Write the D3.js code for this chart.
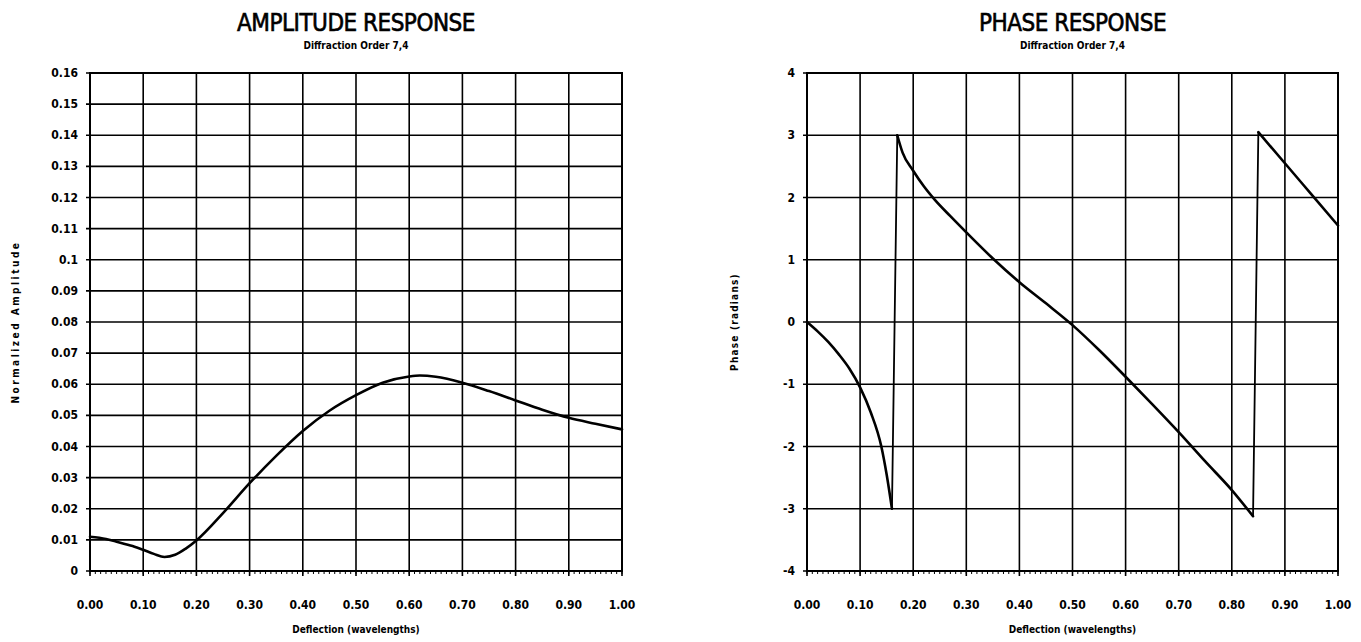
<!DOCTYPE html>
<html>
<head>
<meta charset="utf-8">
<script src="https://cdn.jsdelivr.net/npm/d3@7"></script>
<style>
  body { margin: 0; background: #fff; }
  text { font-family: "Liberation Sans Narrow", "DejaVu Sans Condensed", "Arial Narrow", sans-serif; font-weight: bold; fill: #000; }
</style>
</head>
<body>
<div id="viz"></div>
<script>
// deflection in wavelengths
var amp_x = [0.00, 0.03, 0.05, 0.08, 0.10, 0.12, 0.14, 0.16, 0.18, 0.20, 0.25, 0.30, 0.35, 0.40, 0.45, 0.50, 0.55, 0.60, 0.62, 0.65, 0.70, 0.75, 0.80, 0.85, 0.90, 0.95, 1.00];
var amp_y = [0.0110, 0.0103, 0.0094, 0.0080, 0.0068, 0.0055, 0.0045, 0.0052, 0.0072, 0.0098, 0.0186, 0.0282, 0.0370, 0.0450, 0.0515, 0.0565, 0.0605, 0.0625, 0.0628, 0.0624, 0.0605, 0.0578, 0.0548, 0.0518, 0.0492, 0.0473, 0.0455];

var phase_x = [0.00, 0.02, 0.04, 0.06, 0.08, 0.10, 0.12, 0.14, 0.15, 0.16, 0.17, 0.18, 0.20, 0.22, 0.24, 0.27, 0.30, 0.35, 0.40, 0.45, 0.50, 0.55, 0.60, 0.65, 0.70, 0.75, 0.80, 0.84, 0.85, 0.90, 0.95, 1.00];
var phase_y = [0.00, -0.15, -0.32, -0.52, -0.75, -1.05, -1.45, -2.00, -2.45, -3.00, 3.00, 2.72, 2.43, 2.18, 1.97, 1.70, 1.44, 1.02, 0.64, 0.30, -0.05, -0.45, -0.88, -1.32, -1.77, -2.24, -2.70, -3.12, 3.05, 2.55, 2.05, 1.55];

var x_ticks = [0, 0.1, 0.2, 0.3, 0.4, 0.5, 0.6, 0.7, 0.8, 0.9, 1.0];
var amp_ticks = [0, 0.01, 0.02, 0.03, 0.04, 0.05, 0.06, 0.07, 0.08, 0.09, 0.1, 0.11, 0.12, 0.13, 0.14, 0.15, 0.16];
var amp_tick_labels = ['0', '0.01', '0.02', '0.03', '0.04', '0.05', '0.06', '0.07', '0.08', '0.09', '0.1', '0.11', '0.12', '0.13', '0.14', '0.15', '0.16'];
var phase_ticks = [-4, -3, -2, -1, 0, 1, 2, 3, 4];

var svg = d3.select('#viz')
    .append('svg')
    .attr('width', 1361)
    .attr('height', 642);

function plotPanel(opts) {
    var x = d3.scaleLinear().domain([0, 1]).range([opts.left, opts.right]);
    var y = d3.scaleLinear().domain(opts.domain).range([opts.bottom, opts.top]);
    var cx = (opts.left + opts.right) / 2;
    var g = svg.append('g');

    // titles
    g.append('text')
        .attr('x', cx)
        .attr('y', 31)
        .attr('text-anchor', 'middle')
        .style('font-size', '24px')
        .style('font-weight', 'normal')
        .style('stroke', '#000')
        .style('stroke-width', 0.6)
        .style('letter-spacing', '-0.5px')
        .text(opts.title);

    g.append('text')
        .attr('x', cx)
        .attr('y', 49)
        .attr('text-anchor', 'middle')
        .style('font-size', '10px')
        .text('Diffraction Order 7,4');

    // grid
    g.append('g')
        .selectAll('line')
        .data(opts.yticks)
        .join('line')
        .attr('x1', opts.left - 4)
        .attr('x2', opts.right)
        .attr('y1', d => y(d))
        .attr('y2', d => y(d))
        .attr('stroke', '#000')
        .attr('stroke-width', 1.6);

    g.append('g')
        .selectAll('line')
        .data(x_ticks)
        .join('line')
        .attr('x1', d => x(d))
        .attr('x2', d => x(d))
        .attr('y1', opts.top)
        .attr('y2', opts.bottom + 5)
        .attr('stroke', '#000')
        .attr('stroke-width', 1.6);

    // minor ticks under the x axis
    g.append('g')
        .selectAll('line')
        .data(d3.range(0, 101).map(i => i / 100))
        .join('line')
        .attr('x1', d => x(d))
        .attr('x2', d => x(d))
        .attr('y1', opts.bottom)
        .attr('y2', opts.bottom + 3)
        .attr('stroke', '#000')
        .attr('stroke-width', 1);

    g.append('rect')
        .attr('x', opts.left)
        .attr('y', opts.top)
        .attr('width', opts.right - opts.left)
        .attr('height', opts.bottom - opts.top)
        .attr('fill', 'none')
        .attr('stroke', '#000')
        .attr('stroke-width', 2);

    // tick labels
    g.append('g')
        .selectAll('text')
        .data(x_ticks)
        .join('text')
        .attr('x', d => x(d))
        .attr('y', opts.bottom + 38)
        .attr('text-anchor', 'middle')
        .style('font-size', '12px')
        .text(d => d.toFixed(2));

    g.append('g')
        .selectAll('text')
        .data(opts.yticks)
        .join('text')
        .attr('x', opts.left - 12)
        .attr('y', d => y(d) + 4)
        .attr('text-anchor', 'end')
        .style('font-size', '12px')
        .text((d, i) => opts.ylabels[i]);

    // axis titles
    g.append('text')
        .attr('x', cx)
        .attr('y', opts.bottom + 62)
        .attr('text-anchor', 'middle')
        .style('font-size', '10px')
        .text('Deflection (wavelengths)');

    g.append('text')
        .attr('transform', 'translate(' + opts.ytitle_x + ',' + ((opts.top + opts.bottom) / 2) + ') rotate(-90)')
        .attr('text-anchor', 'middle')
        .style('font-size', '10px')
        .style('letter-spacing', opts.ytitle_spacing)
        .text(opts.ytitle);

    // curve: split into branches at the phase wraps, joined by straight jumps
    var pts = d3.zip(opts.xs, opts.ys);
    var branches = [[pts[0]]];
    var jumps = [];
    for (var i = 1; i < pts.length; i++) {
        if (Math.abs(pts[i][1] - pts[i - 1][1]) > 3) {
            jumps.push([pts[i - 1], pts[i]]);
            branches.push([]);
        }
        branches[branches.length - 1].push(pts[i]);
    }

    var smooth = d3.line()
        .x(d => x(d[0]))
        .y(d => y(d[1]))
        .curve(d3.curveMonotoneX);
    var straight = d3.line()
        .x(d => x(d[0]))
        .y(d => y(d[1]));

    g.append('g')
        .selectAll('path')
        .data(branches)
        .join('path')
        .attr('d', smooth)
        .attr('fill', 'none')
        .attr('stroke', '#000')
        .attr('stroke-width', 2.6)
        .attr('stroke-linecap', 'round');

    g.append('g')
        .selectAll('path')
        .data(jumps)
        .join('path')
        .attr('d', straight)
        .attr('fill', 'none')
        .attr('stroke', '#000')
        .attr('stroke-width', 1.8)
        .attr('stroke-linecap', 'round');
}

plotPanel({
    left: 90, right: 622, top: 73, bottom: 571,
    domain: [0, 0.16],
    yticks: amp_ticks,
    ylabels: amp_tick_labels,
    title: 'AMPLITUDE RESPONSE',
    ytitle: 'Normalized Amplitude',
    ytitle_x: 19,
    ytitle_spacing: '2.5px',
    xs: amp_x, ys: amp_y
});

plotPanel({
    left: 807, right: 1338, top: 73, bottom: 571,
    domain: [-4, 4],
    yticks: phase_ticks,
    ylabels: phase_ticks.map(String),
    title: 'PHASE RESPONSE',
    ytitle: 'Phase (radians)',
    ytitle_x: 738,
    ytitle_spacing: '1.2px',
    xs: phase_x, ys: phase_y
});
</script>
</body>
</html>
